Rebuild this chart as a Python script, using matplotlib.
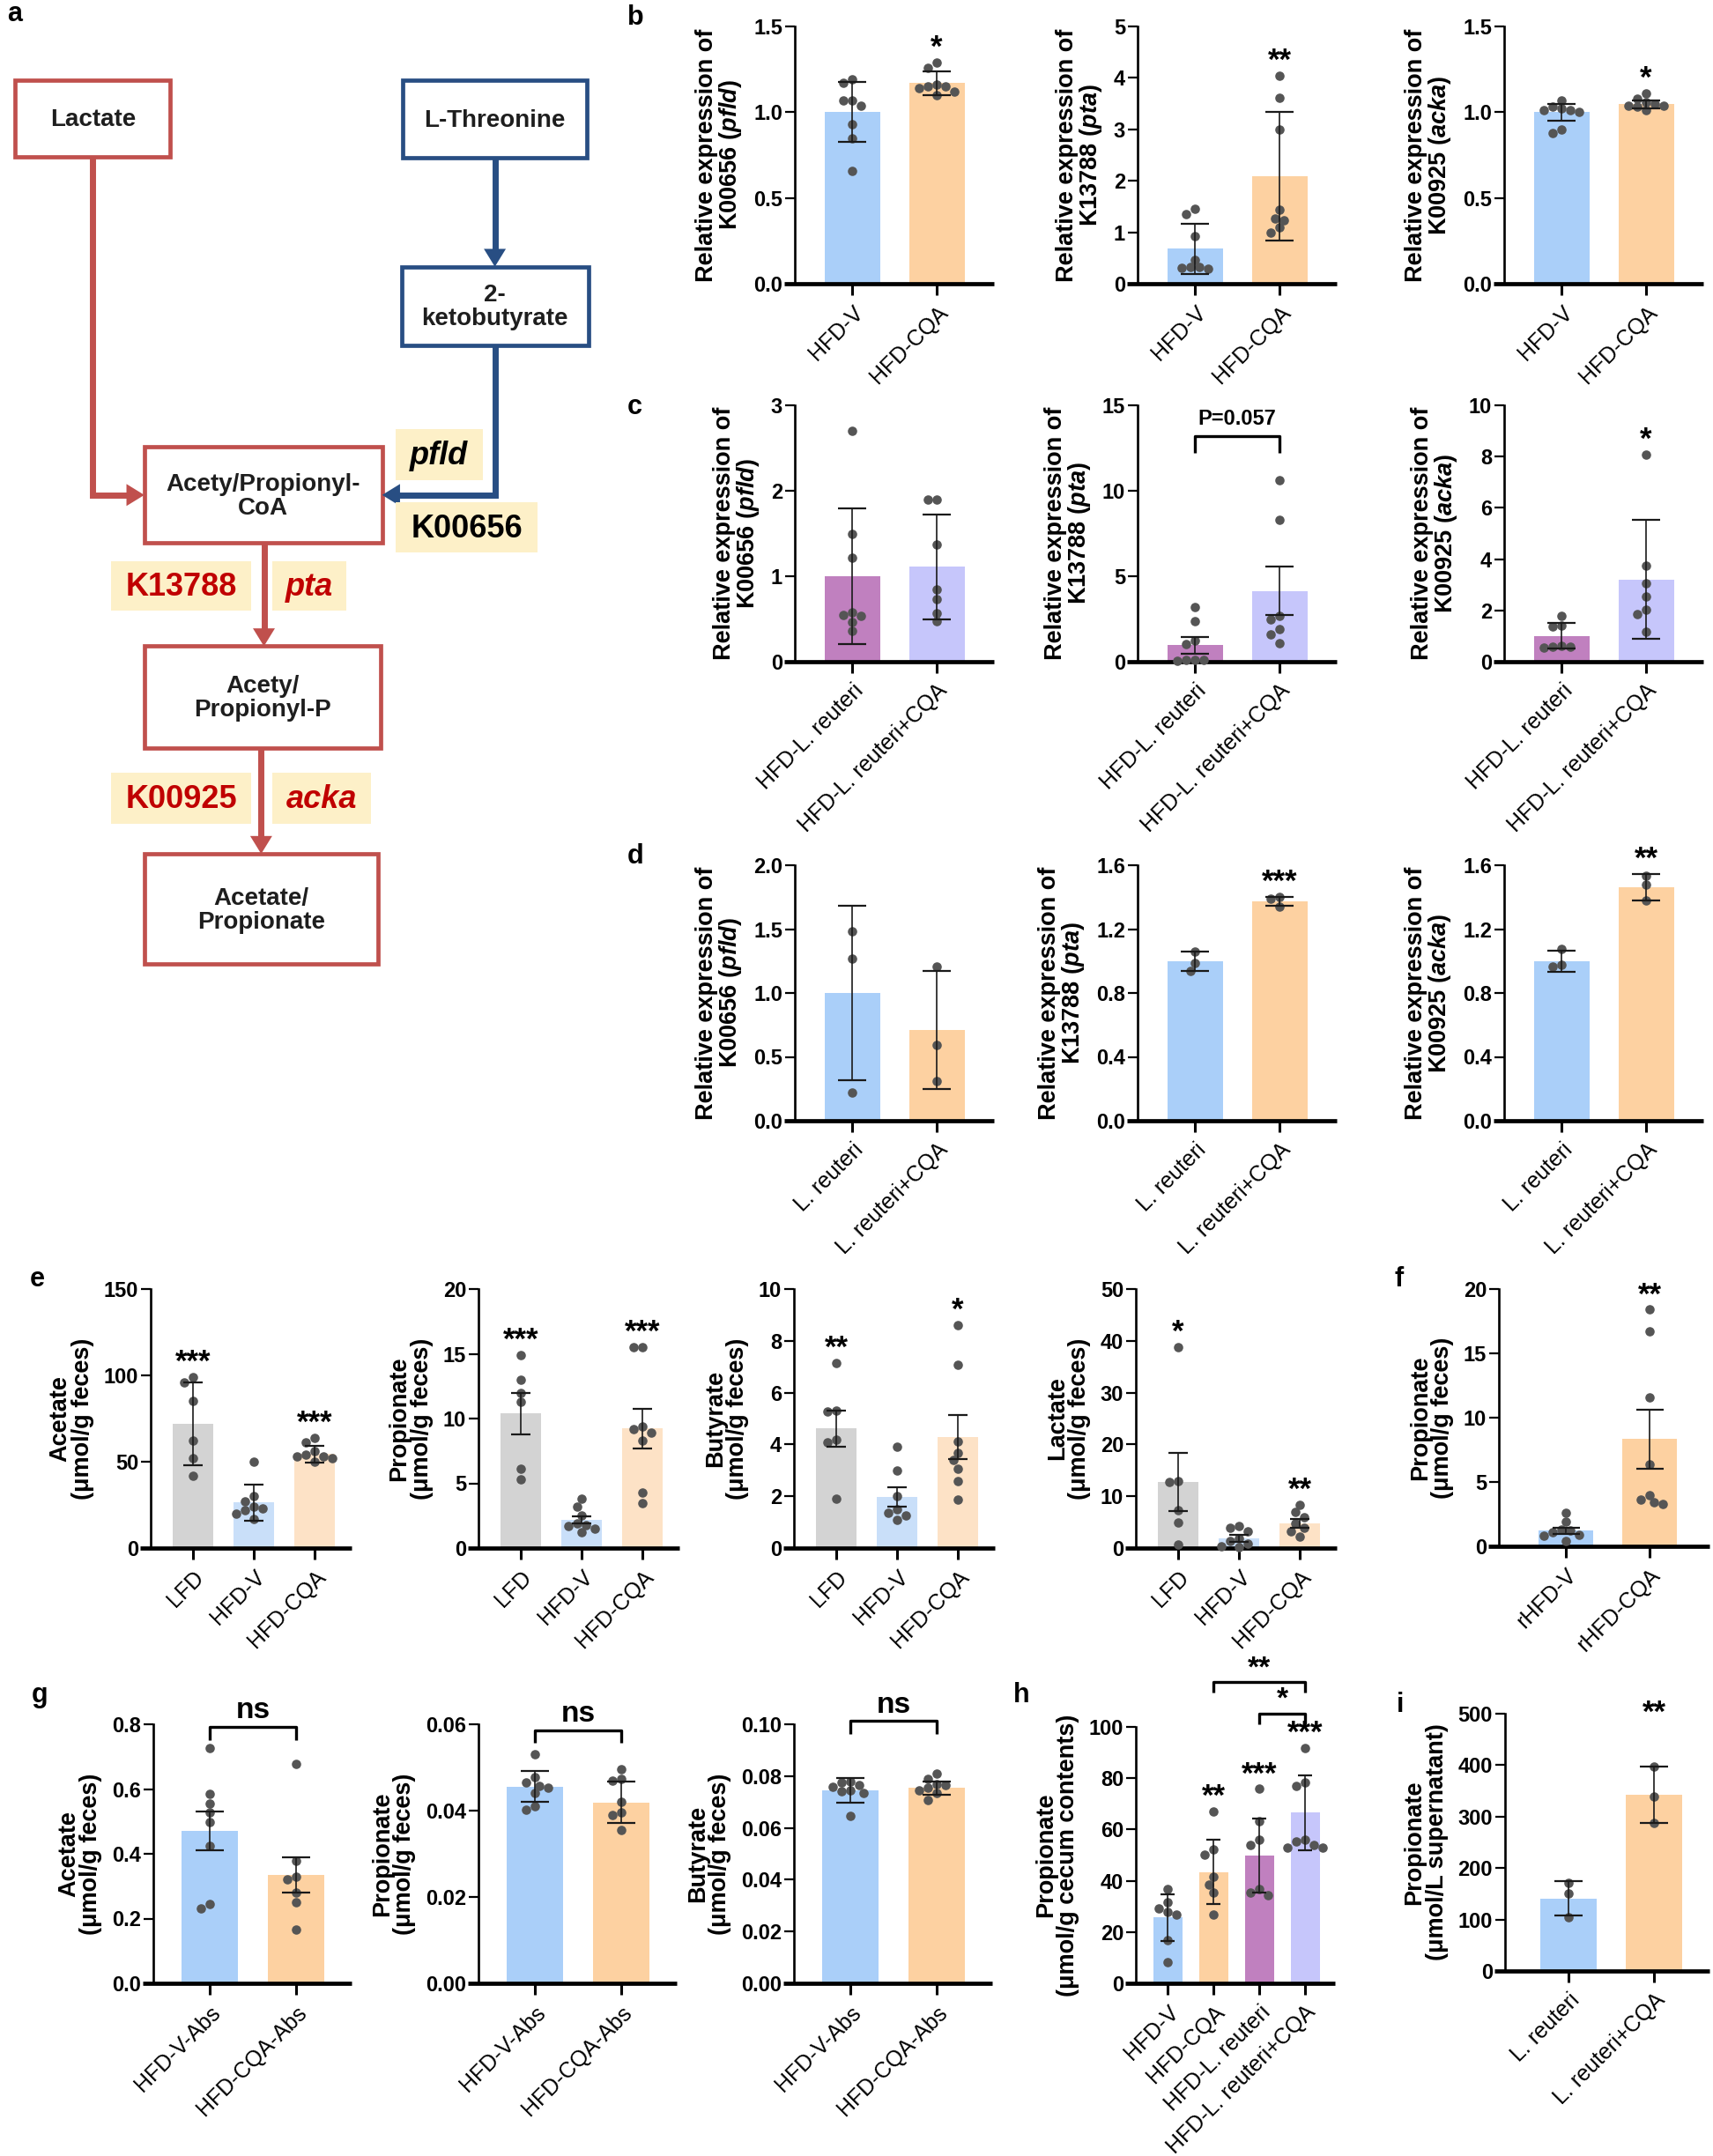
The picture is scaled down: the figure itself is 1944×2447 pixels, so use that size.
import numpy as np
import matplotlib
matplotlib.use("Agg")
from matplotlib import pyplot as plt
from matplotlib import font_manager
from matplotlib.patches import Rectangle, Polygon

W, H, DPI = 1944, 2447, 100

_names = {f.name for f in font_manager.fontManager.ttflist}
SANS = 'Liberation Sans' if 'Liberation Sans' in _names else 'DejaVu Sans'

plt.rcParams['font.family'] = [SANS, 'DejaVu Sans']
plt.rcParams['mathtext.fontset'] = 'custom'
plt.rcParams['mathtext.rm'] = SANS + ':bold'
plt.rcParams['mathtext.bf'] = SANS + ':bold'
plt.rcParams['mathtext.it'] = SANS + ':italic:bold'

# ---- pathway (panel a)
NODES = ["Lactate", "L-Threonine", "2-\nketobutyrate", "Acety/Propionyl-\nCoA",
         "Acety/\nPropionyl-P", "Acetate/\nPropionate"]
TAGS = ["pfld", "K00656", "K13788", "pta", "K00925", "acka"]

# ---- b: HFD-V vs HFD-CQA
B_GROUPS = ["HFD-V", "HFD-CQA"]
B1_MEAN, B1_ERR = [1.00, 1.17], [0.175, 0.07]
B1_PTS = [[1.19, 1.17, 1.07, 1.07, 1.04, 0.93, 0.85, 0.66],
          [1.29, 1.26, 1.16, 1.15, 1.15, 1.14, 1.12, 1.10]]
B2_MEAN, B2_ERR = [0.68, 2.09], [0.49, 1.25]
B2_PTS = [[1.45, 1.35, 0.93, 0.47, 0.33, 0.33, 0.31, 0.29],
          [4.04, 3.62, 2.99, 1.43, 1.27, 1.24, 1.10, 0.99]]
B3_MEAN, B3_ERR = [1.00, 1.046], [0.05, 0.022]
B3_PTS = [[1.07, 1.03, 1.02, 1.01, 1.01, 1.00, 0.90, 0.88],
          [1.11, 1.08, 1.06, 1.05, 1.04, 1.04, 1.03, 1.01]]

# ---- c: HFD-L. reuteri vs HFD-L. reuteri+CQA
C_GROUPS = ["HFD-L. reuteri", "HFD-L. reuteri+CQA"]
C1_MEAN, C1_ERR = [1.00, 1.11], [0.79, 0.61]
C1_PTS = [[2.70, 1.49, 1.22, 0.58, 0.55, 0.54, 0.46, 0.36],
          [1.90, 1.90, 1.37, 0.85, 0.73, 0.57, 0.47]]
C2_MEAN, C2_ERR = [0.96, 4.14], [0.50, 1.42]
C2_PTS = [[3.2, 2.35, 1.25, 1.05, 0.12, 0.10, 0.08, 0.05],
          [10.6, 8.3, 2.7, 2.5, 1.9, 1.6, 1.1]]
C3_MEAN, C3_ERR = [1.00, 3.21], [0.50, 2.31]
C3_PTS = [[1.80, 1.42, 1.38, 0.62, 0.60, 0.58, 0.55],
          [8.08, 3.76, 3.07, 2.55, 2.04, 1.87, 1.18]]

# ---- d: L. reuteri vs L. reuteri+CQA
D_GROUPS = ["L. reuteri", "L. reuteri+CQA"]
D1_MEAN, D1_ERR = [1.00, 0.71], [0.68, 0.46]
D1_PTS = [[1.48, 1.27, 0.22], [1.21, 0.59, 0.31]]
D2_MEAN, D2_ERR = [1.00, 1.376], [0.06, 0.028]
D2_PTS = [[1.06, 0.99, 0.94], [1.40, 1.39, 1.34]]
D3_MEAN, D3_ERR = [1.00, 1.46], [0.067, 0.083]
D3_PTS = [[1.077, 0.976, 0.963], [1.536, 1.48, 1.38]]

# ---- e: faecal SCFA
E_GROUPS = ["LFD", "HFD-V", "HFD-CQA"]
E1_MEAN, E1_ERR = [71.8, 26.4, 54.4], [24.0, 10.4, 4.7]
E1_PTS = [[99, 96, 85, 62, 52, 42], [50, 30, 27, 24, 23, 22, 20, 17],
          [64, 61, 56, 54, 53, 53, 52, 50]]
E2_MEAN, E2_ERR = [10.4, 2.16, 9.23], [1.6, 0.28, 1.55]
E2_PTS = [[14.9, 13.0, 12.0, 11.3, 6.1, 5.3], [3.8, 3.2, 2.5, 1.9, 1.8, 1.7, 1.5, 1.2],
          [15.5, 15.5, 9.4, 9.2, 8.9, 8.3, 4.3, 3.5]]
E3_MEAN, E3_ERR = [4.61, 1.97, 4.28], [0.70, 0.36, 0.84]
E3_PTS = [[7.14, 5.32, 5.26, 4.18, 4.07, 1.91], [3.9, 3.0, 2.0, 1.5, 1.35, 1.25, 1.1],
          [8.61, 7.08, 4.12, 3.67, 3.39, 3.05, 2.6, 1.87]]
E4_MEAN, E4_ERR = [12.8, 1.88, 4.73], [5.6, 0.68, 0.85]
E4_PTS = [[38.8, 13.0, 12.7, 7.3, 5.0, 0.7], [4.2, 3.9, 3.3, 1.8, 1.4, 0.8, 0.4, 0.1],
          [8.3, 6.9, 5.9, 4.7, 3.9, 3.3, 2.2]]

# ---- f
F_GROUPS = ["rHFD-V", "rHFD-CQA"]
F_MEAN, F_ERR = [1.22, 8.34], [0.23, 2.30]
F_PTS = [[2.6, 1.9, 1.3, 1.2, 1.1, 0.9, 0.8, 0.4],
         [18.4, 16.7, 11.56, 6.39, 3.98, 3.63, 3.4, 3.29]]

# ---- g: antibiotic-treated
G_GROUPS = ["HFD-V-Abs", "HFD-CQA-Abs"]
G1_MEAN, G1_ERR = [0.471, 0.334], [0.060, 0.054]
G1_PTS = [[0.726, 0.584, 0.555, 0.527, 0.497, 0.424, 0.246, 0.232],
          [0.678, 0.379, 0.33, 0.32, 0.281, 0.251, 0.165]]
G2_MEAN, G2_ERR = [0.0456, 0.0419], [0.0036, 0.0048]
G2_PTS = [[0.053, 0.0477, 0.0466, 0.0458, 0.0454, 0.044, 0.041, 0.0403],
          [0.0495, 0.0473, 0.047, 0.0421, 0.0395, 0.039, 0.0355]]
G3_MEAN, G3_ERR = [0.0745, 0.0754], [0.0047, 0.0026]
G3_PTS = [[0.078, 0.0775, 0.0765, 0.0757, 0.0745, 0.074, 0.0733, 0.0647],
          [0.081, 0.0788, 0.077, 0.0765, 0.0755, 0.0745, 0.0733, 0.0708]]

# ---- h: cecum propionate
H_GROUPS = ["HFD-V", "HFD-CQA", "HFD-L. reuteri", "HFD-L. reuteri+CQA"]
H_MEAN, H_ERR = [25.7, 43.4, 49.7, 66.5], [9.1, 12.5, 14.4, 14.6]
H_PTS = [[36.9, 31.7, 29.2, 28.0, 26.7, 16.8, 8.1],
         [67.1, 52.2, 50.3, 41.6, 38.5, 35.4, 26.7],
         [75.8, 63.4, 55.9, 54.0, 36.6, 35.4, 34.2],
         [91.9, 78.3, 77.0, 55.9, 55.3, 54.0, 53.0, 52.8]]

# ---- i: culture supernatant
I_GROUPS = ["L. reuteri", "L. reuteri+CQA"]
I_MEAN, I_ERR = [141, 342], [33, 55]
I_PTS = [[172, 150, 104], [398, 339, 288]]

BLUE, ORANGE = '#aacff9', '#fdd1a1'
LBLUE, LORANGE, GRAY = '#c9dff9', '#fde2c6', '#d3d3d3'
PURPLE, LAVENDER = '#c080bf', '#c6c6fb'
RED, NAVY, TAG_BG, TAG_RED = '#c0504d', '#284e83', '#fdf0c8', '#c00000'

fig = plt.figure(figsize=(W / DPI, H / DPI), dpi=DPI)


def arrow_head(ax, tip, d, color, length=13, width=16):
    tip = np.asarray(tip, float)
    d = np.asarray(d, float)
    base = tip - length * d
    perp = np.array([-d[1], d[0]])
    ax.add_patch(Polygon([tip, base + perp * width / 2, base - perp * width / 2],
                         closed=True, color=color, lw=0))


def draw_pathway():
    ax = fig.add_axes([0, 1 - 1108 / H, 702 / W, 1108 / H])
    ax.set_xlim(0, 450)
    ax.set_ylim(710, 0)
    ax.axis('off')
    boxes = [(11, 58, 124, 114, RED), (293, 58, 427, 115, NAVY), (292, 194, 428, 251, NAVY),
             (105, 325, 278, 395, RED), (105, 470, 277, 544, RED), (105, 621, 275, 701, RED)]
    for (xa, ya, xb, yb, c), label in zip(boxes, NODES):
        ax.add_patch(Rectangle((xa, ya), xb - xa, yb - ya, fill=False, ec=c, lw=3.4))
        ax.text((xa + xb) / 2, (ya + yb) / 2 + 1, label, ha='center', va='center',
                fontsize=20, fontweight='bold', color='#1e1e1e', linespacing=1.05)
    lines = [([67, 67, 93], [114, 360, 360], RED, (105, 360), (1, 0)),
             ([360, 360], [115, 182], NAVY, (360, 194), (0, 1)),
             ([360, 360, 290], [251, 360, 360], NAVY, (278, 360), (-1, 0)),
             ([192, 192], [395, 458], RED, (192, 470), (0, 1)),
             ([190, 190], [544, 609], RED, (190, 621), (0, 1))]
    for xs, ys, c, tip, d in lines:
        ax.plot(xs, ys, color=c, lw=5, solid_joinstyle='miter', solid_capstyle='butt')
        arrow_head(ax, tip, d, c)
    tag_boxes = [(288, 312, 351, 349, 'italic', 'black'), (288, 365, 391, 402, 'normal', 'black'),
                 (81, 408, 183, 444, 'normal', TAG_RED), (198, 408, 252, 444, 'italic', TAG_RED),
                 (81, 562, 183, 599, 'normal', TAG_RED), (198, 562, 270, 599, 'italic', TAG_RED)]
    for (xa, ya, xb, yb, st, c), label in zip(tag_boxes, TAGS):
        ax.add_patch(Rectangle((xa, ya), xb - xa, yb - ya, color=TAG_BG, lw=0))
        ax.text((xa + xb) / 2, (ya + yb) / 2 + 1, label, ha='center', va='center',
                fontsize=26, fontweight='bold', fontstyle=st, color=c)


def swarm(ypx, d=10.0):
    """place dots side by side where they would overlap (pixel space)"""
    offs = np.zeros(len(ypx))
    placed = []
    cand = [0.0]
    for k in range(1, 12):
        cand += [-k * d / 2, k * d / 2]
    for i in np.argsort(ypx)[::-1]:
        for c in cand:
            if all((c - px) ** 2 + (ypx[i] - py) ** 2 >= (0.95 * d) ** 2 for px, py in placed):
                offs[i] = c
                placed.append((c, ypx[i]))
                break
    return offs


def bar_panel(box, groups, means, errs, pts, colors, ymax, yticks, fmt, ylabel,
              sig=None, star_pad=0.0):
    x0, x1, top, zero, first, step, width = box
    left = x0 - 12
    ax = fig.add_axes([left / W, 1 - zero / H, (x1 - left) / W, (zero - top) / H])
    ax.set_xlim((left - x0 - first) / step, (x1 - x0 - first) / step)
    ax.set_ylim(0, ymax)
    xs = np.arange(len(groups))
    ax.bar(xs, means, width=width / step, color=colors, zorder=1)
    ypx = (zero - top) / ymax
    for i, vals in enumerate(pts):
        vals = np.asarray(vals, float)
        offs = swarm(vals * ypx) / step
        ax.scatter(i + offs, vals, s=58, color='#555555', linewidths=0, zorder=3, clip_on=False)
    cap = 0.25 * width * 72 / DPI
    ax.errorbar(xs, means, yerr=errs, fmt='none', ecolor='#1a1a1a', elinewidth=1.2,
                capsize=cap, capthick=1.6, zorder=4)
    for s in ['top', 'right']:
        ax.spines[s].set_visible(False)
    ax.spines['left'].set_position(('axes', 12 / (x1 - left)))
    ax.spines['left'].set_linewidth(1.9)
    ax.spines['bottom'].set_linewidth(3.4)
    ax.spines['bottom'].set_capstyle('butt')
    ax.set_yticks(yticks)
    ax.set_yticklabels([fmt.format(t) for t in yticks], fontweight='bold', fontsize=17)
    ax.set_xticks(xs)
    ax.set_xticklabels(groups, rotation=45, ha='right', rotation_mode='anchor', fontsize=18)
    ax.tick_params(axis='y', direction='out', length=8, width=1.6, pad=2)
    ax.tick_params(axis='x', direction='out', length=9, width=2.2, pad=6)
    ax.set_ylabel(ylabel, fontsize=19.5, fontweight='bold', labelpad=8, linespacing=0.95)
    if sig:
        for i, s in enumerate(sig):
            if s:
                y = max(max(pts[i]), means[i] + errs[i]) + star_pad * ymax
                ax.text(i, y, s, ha='center', va='bottom', fontsize=25, fontweight='bold',
                        clip_on=False)
    return ax


def bracket(ax, i, j, y, h, label, gap, fs=24):
    ax.plot([i, i, j, j], [y - h, y, y, y - h], color='black', lw=2.4, clip_on=False,
            solid_capstyle='butt')
    ax.text((i + j) / 2, y + gap, label, ha='center', va='bottom', fontsize=fs,
            fontweight='bold', clip_on=False)


def two(x0, top, zero):
    return (x0, x0 + 226, top, zero, 65, 96, 63)


def three(x0):
    return (x0, x0 + 228, 1463, 1757, 48, 69, 46)


def two_g(x0):
    return (x0, x0 + 225, 1957, 2251, 64, 98, 64)


draw_pathway()

BC = [BLUE, ORANGE]
CC = [PURPLE, LAVENDER]
EC = [GRAY, LBLUE, LORANGE]
lab = "Relative expression of\n"
y_pfld = lab + r"K00656 ($\mathit{pfld}$)"
y_pta = lab + r"K13788 ($\mathit{pta}$)"
y_acka = lab + r"K00925 ($\mathit{acka}$)"

bar_panel(two(902, 30, 322), B_GROUPS, B1_MEAN, B1_ERR, B1_PTS, BC, 1.5,
          [0, 0.5, 1.0, 1.5], "{:.1f}", y_pfld, ["", "*"])
bar_panel(two(1291, 30, 322), B_GROUPS, B2_MEAN, B2_ERR, B2_PTS, BC, 5,
          [0, 1, 2, 3, 4, 5], "{:.0f}", y_pta, ["", "**"])
bar_panel(two(1707, 30, 322), B_GROUPS, B3_MEAN, B3_ERR, B3_PTS, BC, 1.5,
          [0, 0.5, 1.0, 1.5], "{:.1f}", y_acka, ["", "*"])

bar_panel(two(902, 460, 751), C_GROUPS, C1_MEAN, C1_ERR, C1_PTS, CC, 3,
          [0, 1, 2, 3], "{:.0f}", y_pfld)
ax = bar_panel(two(1291, 460, 751), C_GROUPS, C2_MEAN, C2_ERR, C2_PTS, CC, 15,
               [0, 5, 10, 15], "{:.0f}", y_pta)
bracket(ax, 0, 1, 15 * 0.88, 1.0, "P=0.057", 0.4, fs=17)
bar_panel(two(1707, 460, 751), C_GROUPS, C3_MEAN, C3_ERR, C3_PTS, CC, 10,
          [0, 2, 4, 6, 8, 10], "{:.0f}", y_acka, ["", "*"])

bar_panel(two(902, 982, 1272), D_GROUPS, D1_MEAN, D1_ERR, D1_PTS, BC, 2.0,
          [0, 0.5, 1.0, 1.5, 2.0], "{:.1f}", y_pfld)
bar_panel(two(1291, 982, 1272), D_GROUPS, D2_MEAN, D2_ERR, D2_PTS, BC, 1.6,
          [0, 0.4, 0.8, 1.2, 1.6], "{:.1f}", y_pta, ["", "***"])
bar_panel(two(1707, 982, 1272), D_GROUPS, D3_MEAN, D3_ERR, D3_PTS, BC, 1.6,
          [0, 0.4, 0.8, 1.2, 1.6], "{:.1f}", y_acka, ["", "**"])

feces = "\n(μmol/g feces)"
bar_panel(three(171), E_GROUPS, E1_MEAN, E1_ERR, E1_PTS, EC, 150,
          [0, 50, 100, 150], "{:.0f}", "Acetate" + feces, ["***", "", "***"])
bar_panel(three(543), E_GROUPS, E2_MEAN, E2_ERR, E2_PTS, EC, 20,
          [0, 5, 10, 15, 20], "{:.0f}", "Propionate" + feces, ["***", "", "***"])
bar_panel(three(901), E_GROUPS, E3_MEAN, E3_ERR, E3_PTS, EC, 10,
          [0, 2, 4, 6, 8, 10], "{:.0f}", "Butyrate" + feces, ["**", "", "*"])
bar_panel(three(1289), E_GROUPS, E4_MEAN, E4_ERR, E4_PTS, EC, 50,
          [0, 10, 20, 30, 40, 50], "{:.0f}", "Lactate" + feces, ["*", "", "**"])
bar_panel((1701, 1940, 1463, 1755, 76, 95, 62), F_GROUPS, F_MEAN, F_ERR, F_PTS, BC, 20,
          [0, 5, 10, 15, 20], "{:.0f}", "Propionate" + feces, ["", "**"])

ax = bar_panel(two_g(174), G_GROUPS, G1_MEAN, G1_ERR, G1_PTS, BC, 0.8,
               [0, 0.2, 0.4, 0.6, 0.8], "{:.1f}", "Acetate" + feces)
bracket(ax, 0, 1, 0.8 * 0.99, 0.8 * 0.05, "ns", 0.8 * 0.01)
ax = bar_panel(two_g(543), G_GROUPS, G2_MEAN, G2_ERR, G2_PTS, BC, 0.06,
               [0, 0.02, 0.04, 0.06], "{:.2f}", "Propionate" + feces)
bracket(ax, 0, 1, 0.06 * 0.977, 0.06 * 0.05, "ns", 0.06 * 0.01)
ax = bar_panel(two_g(901), G_GROUPS, G3_MEAN, G3_ERR, G3_PTS, BC, 0.10,
               [0, 0.02, 0.04, 0.06, 0.08, 0.10], "{:.2f}", "Butyrate" + feces)
bracket(ax, 0, 1, 0.10 * 1.012, 0.10 * 0.05, "ns", 0.10 * 0.01)

ax = bar_panel((1289, 1515, 1960, 2251, 36, 52, 33), H_GROUPS, H_MEAN, H_ERR, H_PTS,
               [BLUE, ORANGE, PURPLE, LAVENDER], 100, [0, 20, 40, 60, 80, 100], "{:.0f}",
               "Propionate\n(μmol/g cecum contents)", ["", "**", "***", "***"])
bracket(ax, 1, 3, 117.4, 4, "**", 0.0)
bracket(ax, 2, 3, 105.2, 4, "*", 0.0)
bar_panel((1708, 1940, 1945, 2237, 72, 97, 64), I_GROUPS, I_MEAN, I_ERR, I_PTS, BC, 500,
          [0, 100, 200, 300, 400, 500], "{:.0f}", "Propionate\n(μmol/L supernatant)",
          ["", "**"], star_pad=0.15)

for letter, (x, y) in zip("abcdefghi", [(8, 16), (712, 20), (712, 462), (712, 972),
                                        (34, 1452), (1582, 1452), (36, 1924),
                                        (1150, 1924), (1585, 1935)]):
    fig.text(x / W, 1 - y / H, letter, fontsize=22, fontweight='bold', va='center', ha='left')

fig.savefig("out.png", dpi=DPI)
